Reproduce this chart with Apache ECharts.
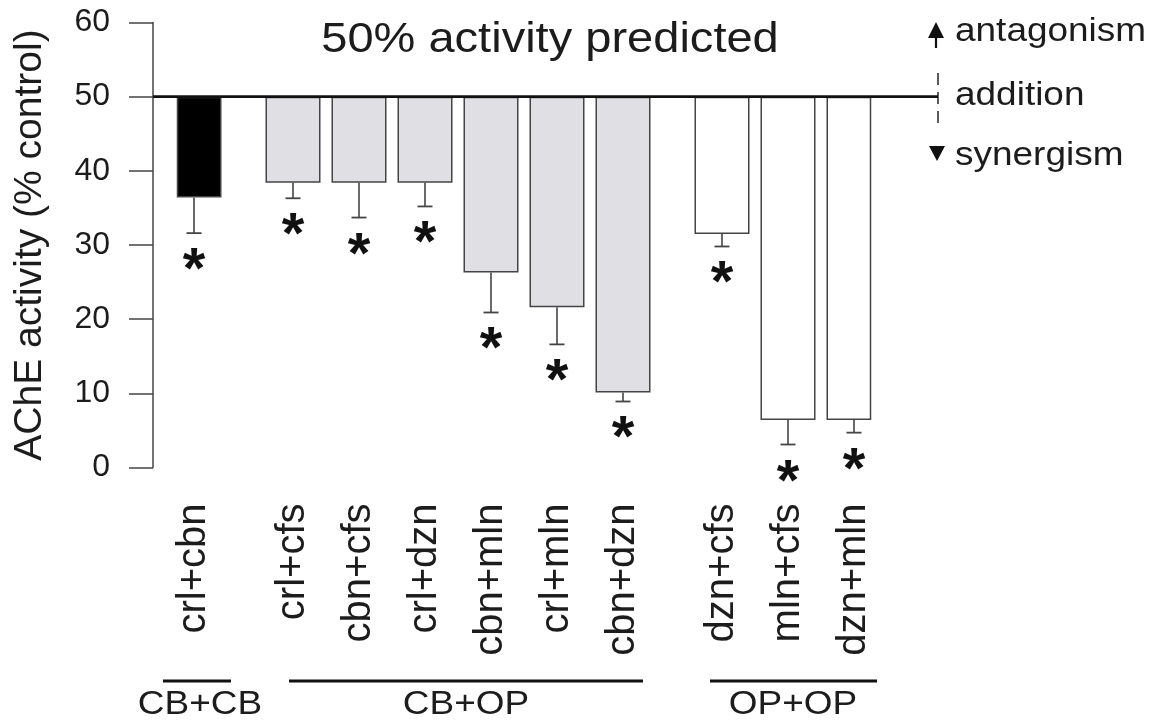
<!DOCTYPE html>
<html>
<head>
<meta charset="utf-8">
<script src="https://cdn.jsdelivr.net/npm/echarts@6/dist/echarts.min.js"></script>
<style>
html,body{margin:0;padding:0;background:#fff;}
#chart{width:1155px;height:723px;}
</style>
</head>
<body>
<div id="chart"></div>
<script>
// ---- data ----
const groupNames = ['CB+CB', 'CB+OP', 'OP+OP'];
const groupMembers = [
  ['crl+cbn'],
  ['crl+cfs', 'cbn+cfs', 'crl+dzn', 'cbn+mln', 'crl+mln', 'cbn+dzn'],
  ['dzn+cfs', 'mln+cfs', 'dzn+mln']
];
// mean AChE activity (% control)
const activity = [36.4, 38.4, 38.4, 38.4, 26.3, 21.6, 10.1, 31.5, 6.4, 6.4];
// lower end of the error bar
const errorLow = [31.6, 36.3, 33.7, 35.2, 20.9, 16.6, 8.9, 29.8, 3.1, 4.7];
const significant = [true, true, true, true, true, true, true, true, true, true];
const predicted = 50;
const yTicks = [0, 10, 20, 30, 40, 50, 60];

// ---- layout of category slots (each bar spans two half-slots, groups separated by one) ----
const categories = [];
const barPos = [];
const barGroup = [];
groupMembers.forEach((members, g) => {
  if (g > 0) categories.push('');
  members.forEach((m) => {
    barPos.push(categories.length);
    barGroup.push(g);
    categories.push(m);
    categories.push('');
  });
});
categories.pop();

const groupFill = ['#000000', '#e0dfe3', '#ffffff'];
const FONT = '"Liberation Sans", Arial, Helvetica, sans-serif';
const INK = '#1c1c1c';

const baseData = activity.map((v, i) => [barPos[i], v]);
const barData = activity.map((v, i) => ({
  value: [barPos[i], predicted - v],
  itemStyle: { color: groupFill[barGroup[i]] }
}));
const errData = activity.map((v, i) => [barPos[i], v, errorLow[i], significant[i] ? 1 : 0]);

const chart = echarts.init(document.getElementById('chart'), null, { renderer: 'canvas' });

const option = {
  animation: false,
  backgroundColor: '#ffffff',
  grid: { left: 177.5, right: 284.5, top: 22.5, bottom: 255.5, containLabel: false },
  xAxis: {
    type: 'category',
    data: categories,
    boundaryGap: true,
    axisLine: { show: false },
    axisTick: { show: false },
    axisLabel: {
      interval: 0, rotate: 90, fontSize: 40, fontFamily: FONT, color: INK, margin: 36
    },
    splitLine: { show: false }
  },
  yAxis: {
    type: 'value',
    min: yTicks[0], max: yTicks[yTicks.length - 1], interval: 10,
    offset: 24.5,
    name: 'AChE activity (% control)',
    nameLocation: 'middle',
    nameRotate: 90,
    nameGap: 103,
    nameTextStyle: { fontSize: 39, fontFamily: FONT, color: INK },
    axisLine: { show: true, lineStyle: { color: '#444', width: 1.5 } },
    axisTick: { show: true, length: 24, inside: false, lineStyle: { color: '#444', width: 1.5 } },
    axisLabel: { fontSize: 32, fontFamily: FONT, color: INK, margin: 43 },
    splitLine: { show: false }
  },
  series: [
    {
      type: 'bar', stack: 'a', barWidth: 55, data: baseData,
      itemStyle: { color: 'rgba(0,0,0,0)', borderWidth: 0 }, silent: true, z: 1
    },
    {
      type: 'bar', stack: 'a', barWidth: 55, data: barData,
      itemStyle: { borderColor: '#444', borderWidth: 1.5 }, z: 2
    },
    {
      type: 'custom', z: 3, data: errData,
      renderItem: function (params, api) {
        const x = api.value(0), v = api.value(1), lo = api.value(2), sig = api.value(3);
        const p1 = api.coord([x, v]);
        const p2 = api.coord([x, lo]);
        const children = [
          { type: 'line', shape: { x1: p1[0], y1: p1[1], x2: p2[0], y2: p2[1] }, style: { stroke: '#444', lineWidth: 1.6 } },
          { type: 'line', shape: { x1: p2[0] - 7.5, y1: p2[1], x2: p2[0] + 7.5, y2: p2[1] }, style: { stroke: '#444', lineWidth: 1.8 } }
        ];
        if (sig) {
          children.push({
            type: 'text',
            style: { text: '*', x: p2[0], y: p2[1] + 39, font: 'bold 58px ' + FONT, fill: '#111', textAlign: 'center', textVerticalAlign: 'middle' }
          });
        }
        return { type: 'group', children: children };
      }
    },
    {
      type: 'custom', z: 4, data: [[0, predicted]],
      renderItem: function (params, api) {
        const p = api.coord([api.value(0), api.value(1)]);
        const left = params.coordSys.x - 24.5;
        return { type: 'line', shape: { x1: left, y1: p[1], x2: 938, y2: p[1] }, style: { stroke: '#111', lineWidth: 2.6 } };
      }
    }
  ],
  graphic: [
    { type: 'text', x: 550, y: 40, scaleX: 1.12, style: { text: '50% activity predicted', font: '42px ' + FONT, fill: INK, textAlign: 'center', textVerticalAlign: 'middle' } },
    { type: 'text', x: 955, y: 31.6, scaleX: 1.12, style: { text: 'antagonism', font: '33px ' + FONT, fill: INK, textAlign: 'left', textVerticalAlign: 'middle' } },
    { type: 'text', x: 955, y: 95.6, scaleX: 1.12, style: { text: 'addition', font: '33px ' + FONT, fill: INK, textAlign: 'left', textVerticalAlign: 'middle' } },
    { type: 'text', x: 955, y: 155.6, scaleX: 1.12, style: { text: 'synergism', font: '33px ' + FONT, fill: INK, textAlign: 'left', textVerticalAlign: 'middle' } },
    { type: 'polygon', shape: { points: [[928, 38], [944, 38], [936, 22]] }, style: { fill: '#111' } },
    { type: 'line', shape: { x1: 936, y1: 36, x2: 936, y2: 48 }, style: { stroke: '#111', lineWidth: 2.2 } },
    { type: 'polygon', shape: { points: [[929, 146], [945, 146], [937, 161]] }, style: { fill: '#111' } },
    { type: 'line', shape: { x1: 938, y1: 73, x2: 938, y2: 124 }, style: { stroke: '#333', lineWidth: 1.6, lineDash: [12, 7] } },
    { type: 'line', shape: { x1: 163, y1: 681, x2: 231, y2: 681 }, style: { stroke: '#111', lineWidth: 3 } },
    { type: 'line', shape: { x1: 289, y1: 681, x2: 643, y2: 681 }, style: { stroke: '#111', lineWidth: 3 } },
    { type: 'line', shape: { x1: 710, y1: 681, x2: 877, y2: 681 }, style: { stroke: '#111', lineWidth: 3 } },
    { type: 'text', x: 200, y: 705, scaleX: 1.12, style: { text: groupNames[0], font: '33px ' + FONT, fill: INK, textAlign: 'center', textVerticalAlign: 'middle' } },
    { type: 'text', x: 466, y: 705, scaleX: 1.12, style: { text: groupNames[1], font: '33px ' + FONT, fill: INK, textAlign: 'center', textVerticalAlign: 'middle' } },
    { type: 'text', x: 793, y: 705, scaleX: 1.12, style: { text: groupNames[2], font: '33px ' + FONT, fill: INK, textAlign: 'center', textVerticalAlign: 'middle' } }
  ]
};
chart.setOption(option);
</script>
</body>
</html>
